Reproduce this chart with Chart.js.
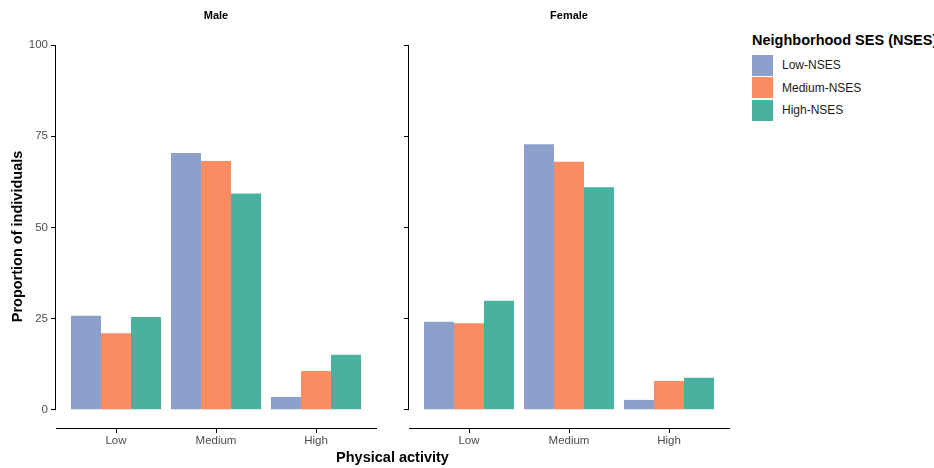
<!DOCTYPE html>
<html>
<head>
<meta charset="utf-8">
<script src="https://cdn.jsdelivr.net/npm/chart.js@4"></script>
<style>
  body { margin: 0; background: #fff; font-family: "Liberation Sans", Arial, sans-serif; }
  #wrap { position: relative; width: 934px; height: 468px; overflow: hidden; }
  canvas { position: absolute; top: 0; }
  #xtitle { position: absolute; left: 56px; width: 673px; top: 449px; text-align: center;
            font-weight: bold; font-size: 14.5px; color: #000; }
  #legend { position: absolute; left: 752px; top: 32px; color: #1a1a1a; white-space: nowrap; }
  #legend .ttl { font-weight: bold; font-size: 14.5px; color: #000; margin-bottom: 6px; }
  #legend .item { height: 22.5px; display: flex; align-items: center; font-size: 12px; }
  #legend .box { width: 21px; height: 21px; margin-right: 9px; }
</style>
</head>
<body>
<div id="wrap">
  <canvas id="male" width="380" height="468" style="left:0"></canvas>
  <canvas id="female" width="360" height="468" style="left:380px"></canvas>
  <div id="xtitle">Physical activity</div>
  <div id="legend"></div>
</div>
<script>
const categories = ['Low', 'Medium', 'High'];
const seriesNames = ['Low-NSES', 'Medium-NSES', 'High-NSES'];
const colors = ['#8DA0CB', '#FC8D62', '#48B1A0'];

// values per NSES group, in the order of categories
const maleLow = [25.8, 70.4, 3.5];
const maleMedium = [21.0, 68.2, 10.6];
const maleHigh = [25.4, 59.3, 15.1];
const femaleLow = [24.1, 72.8, 2.7];
const femaleMedium = [23.7, 68.0, 7.9];
const femaleHigh = [29.9, 61.0, 8.8];

const yTicks = [0, 25, 50, 75, 100];

// y axis line only from 0 to 100, like the original
const cappedAxis = {
  id: 'cappedAxis',
  afterDraw(chart) {
    const ctx = chart.ctx;
    const y = chart.scales.y;
    const x = Math.round(chart.chartArea.left) - 0.5;
    ctx.save();
    ctx.strokeStyle = '#000';
    ctx.lineWidth = 1;
    ctx.beginPath();
    ctx.moveTo(x, y.getPixelForValue(0) + 0.5);
    ctx.lineTo(x, y.getPixelForValue(100));
    ctx.stroke();
    ctx.restore();
  }
};

function makePanel(id, title, series, showY, yWidth, padRight) {
  const datasets = series.map(function (vals, i) {
    return {
      label: seriesNames[i],
      data: vals.map(function (v, j) { return { x: j, y: v }; }),
      backgroundColor: colors[i],
      borderWidth: 0,
      barPercentage: 1,
      categoryPercentage: 0.9
    };
  });

  return new Chart(document.getElementById(id), {
    type: 'bar',
    data: { datasets: datasets },
    plugins: [cappedAxis],
    options: {
      responsive: false,
      animation: false,
      layout: { padding: { right: padRight } },
      plugins: { legend: { display: false }, tooltip: { enabled: false } },
      scales: {
        x: {
          type: 'linear',
          min: -0.6,
          max: 2.6,
          offset: false,
          afterBuildTicks: function (s) { s.ticks = categories.map(function (c, i) { return { value: i }; }); },
          afterFit: function (s) { s.height = 40; },
          grid: { display: true, offset: false, drawOnChartArea: false, tickLength: 5, color: '#000' },
          border: { display: true, color: '#000', width: 1 },
          ticks: {
            padding: 1,
            color: '#4D4D4D',
            font: { family: 'Liberation Sans', size: 11.5 },
            callback: function (v) { return categories[v]; }
          }
        },
        panel: {
          type: 'linear',
          position: 'top',
          afterFit: function (s) { s.height = 45; },
          grid: { display: false },
          border: { display: false },
          ticks: { display: false },
          title: {
            display: true,
            text: title,
            color: '#000',
            font: { family: 'Liberation Sans', size: 11, weight: 'bold' },
            padding: { top: 9, bottom: 0 }
          }
        },
        y: {
          min: -5,
          max: 100,
          afterBuildTicks: function (s) { s.ticks = yTicks.map(function (v) { return { value: v }; }); },
          afterFit: function (s) { s.width = yWidth; },
          grid: { display: true, drawOnChartArea: false, tickLength: 5, color: '#000' },
          border: { display: false },
          ticks: {
            display: showY,
            padding: 3,
            color: '#4D4D4D',
            font: { family: 'Liberation Sans', size: 11.5 }
          },
          title: {
            display: showY,
            text: 'Proportion of individuals',
            color: '#000',
            font: { family: 'Liberation Sans', size: 14.5, weight: 'bold' },
            padding: { top: 9, bottom: 0 }
          }
        }
      }
    }
  });
}

makePanel('male', 'Male', [maleLow, maleMedium, maleHigh], true, 56, 4);
makePanel('female', 'Female', [femaleLow, femaleMedium, femaleHigh], false, 29, 11);

// legend
const legend = document.getElementById('legend');
let html = '<div class="ttl">Neighborhood SES (NSES)</div>';
seriesNames.forEach(function (name, i) {
  html += '<div class="item"><span class="box" style="background:' + colors[i] + '"></span>' + name + '</div>';
});
legend.innerHTML = html;
</script>
</body>
</html>
